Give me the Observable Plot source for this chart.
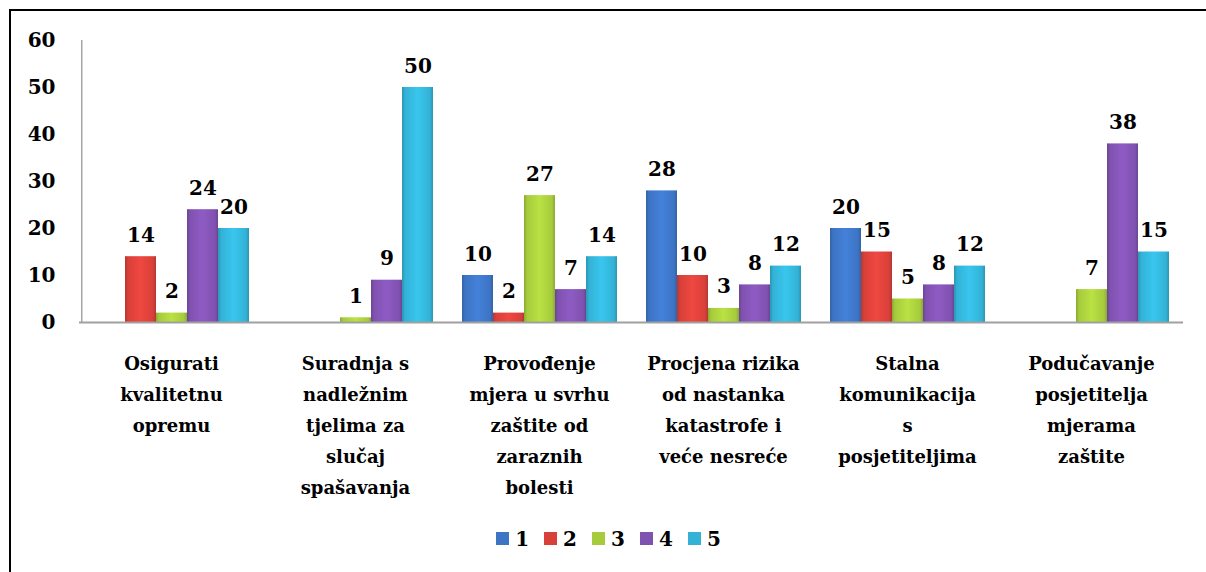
<!DOCTYPE html>
<html>
<head>
<meta charset="utf-8">
<script src="https://cdn.jsdelivr.net/npm/d3@7"></script>
<script src="https://cdn.jsdelivr.net/npm/@observablehq/plot@0.6"></script>
<style>
  html, body { margin: 0; padding: 0; background: #fff; overflow: hidden; width: 1206px; height: 572px; }
  #chart { position: absolute; left: 0; top: 0; }
  #frame { position: absolute; left: 9px; top: 9px; width: 1400px; height: 800px; border: 2px solid #000; pointer-events: none; }
  #legend { position: absolute; left: 26px; top: 522px; width: 1180px; display: flex; justify-content: center; }
</style>
</head>
<body>
<div id="chart"></div>
<div id="legend"></div>
<div id="frame"></div>
<script>
const categories = [
  "Osigurati kvalitetnu opremu",
  "Suradnja s nadležnim tjelima za slučaj spašavanja",
  "Provođenje mjera u svrhu zaštite od zaraznih bolesti",
  "Procjena rizika od nastanka katastrofe i veće nesreće",
  "Stalna komunikacija s posjetiteljima",
  "Podučavanje posjetitelja mjerama zaštite"
];
const categoryLabels = [
  "Osigurati\nkvalitetnu\nopremu",
  "Suradnja s\nnadležnim\ntjelima za\nslučaj\nspašavanja",
  "Provođenje\nmjera u svrhu\nzaštite od\nzaraznih\nbolesti",
  "Procjena rizika\nod nastanka\nkatastrofe i\nveće nesreće",
  "Stalna\nkomunikacija\ns\nposjetiteljima",
  "Podučavanje\nposjetitelja\nmjerama\nzaštite"
];
const series = ["1", "2", "3", "4", "5"];
const values1 = [null, null, 10, 28, 20, null];
const values2 = [14, null, 2, 10, 15, null];
const values3 = [2, 1, 27, 3, 5, 7];
const values4 = [24, 9, 7, 8, 8, 38];
const values5 = [20, 50, 14, 12, 12, 15];
const yTicks = [0, 10, 20, 30, 40, 50, 60];
const colors = ["#3d74c4", "#d8403a", "#a6cb3c", "#8052b0", "#33b2d6"];

const FONT = "DejaVu Serif";

const seriesValues = [values1, values2, values3, values4, values5];
const table = [];
categories.forEach((c, i) => {
  series.forEach((s, j) => {
    const v = seriesValues[j][i];
    if (v != null) table.push({category: c, series: s, value: v});
  });
});

const xPadOuter = 0.383;

function shade(hex, k) {
  const c = d3.rgb(hex);
  return (k > 0 ? c.brighter(k) : c.darker(-k)).formatHex();
}

const chart = Plot.plot({
  width: 1206,
  height: 516,
  marginLeft: 77,
  marginRight: 22,
  marginTop: 40,
  marginBottom: 194,
  style: {fontFamily: FONT, fontWeight: "bold", fontSize: "20px", color: "#000", background: "transparent"},
  fx: {domain: categories, padding: 0, axis: null},
  x: {domain: series, paddingInner: 0, paddingOuter: xPadOuter, axis: null},
  y: {domain: [0, 60], axis: null},
  color: {domain: series, range: colors},
  marks: [
    Plot.axisY({ticks: yTicks, tickSize: 0, tickPadding: 24, label: null, fill: "#000", fontSize: 20, fontWeight: "bold", fontFamily: FONT}),
    // vertical axis line at the left edge of the first group
    Plot.ruleX([categories[0]], {fx: d => d, x: () => series[0], y1: 0, y2: 60, stroke: "#a6a6a6", strokeWidth: 1.5, dx: -(16 + 32 * xPadOuter)}),
    Plot.barY(table, {fx: "category", x: "series", y: "value", fill: "series"}),
    Plot.ruleY([0], {stroke: "#a0a0a0", strokeWidth: 2}),
    Plot.text(table, {fx: "category", x: "series", y: "value", text: "value", lineAnchor: "bottom", dy: -15, fontSize: 20, fontWeight: "bold", fontFamily: FONT, fill: "#000"}),
    Plot.text(categories, {fx: d => d, text: (d, i) => categoryLabels[i], frameAnchor: "bottom", lineAnchor: "top", dy: 26, lineHeight: 1.72, fontSize: 18, fontWeight: "bold", fontFamily: FONT, fill: "#000"})
  ]
});

// bevel-like shading for bars
const ns = "http://www.w3.org/2000/svg";
const defs = document.createElementNS(ns, "defs");
colors.forEach((col, i) => {
  const g = document.createElementNS(ns, "linearGradient");
  g.setAttribute("id", "barGrad" + i);
  g.setAttribute("x1", "0"); g.setAttribute("x2", "1"); g.setAttribute("y1", "0"); g.setAttribute("y2", "0");
  [[0, shade(col, -0.5)], [0.1, col], [0.5, shade(col, 0.3)], [0.9, col], [1, shade(col, -0.5)]].forEach(([o, c]) => {
    const s = document.createElementNS(ns, "stop");
    s.setAttribute("offset", o); s.setAttribute("stop-color", c);
    g.appendChild(s);
  });
  defs.appendChild(g);
});
chart.insertBefore(defs, chart.firstChild);
chart.querySelectorAll('g[aria-label="bar"] rect').forEach(r => {
  const f = (r.getAttribute("fill") || "").toLowerCase();
  const i = colors.indexOf(f);
  if (i >= 0) r.setAttribute("fill", `url(#barGrad${i})`);
});

document.getElementById("chart").appendChild(chart);

const legend = Plot.legend({color: {domain: series, range: colors}, swatchSize: 13});
document.getElementById("legend").appendChild(legend);
[legend, ...legend.querySelectorAll("*")].forEach(el => {
  el.style.fontFamily = FONT;
  el.style.fontWeight = "bold";
  el.style.fontSize = "20px";
  el.style.color = "#000";
});
legend.querySelectorAll("span").forEach(el => { el.style.marginRight = "15px"; });
legend.querySelectorAll("svg").forEach(el => { el.style.marginRight = "6px"; });
</script>
</body>
</html>
